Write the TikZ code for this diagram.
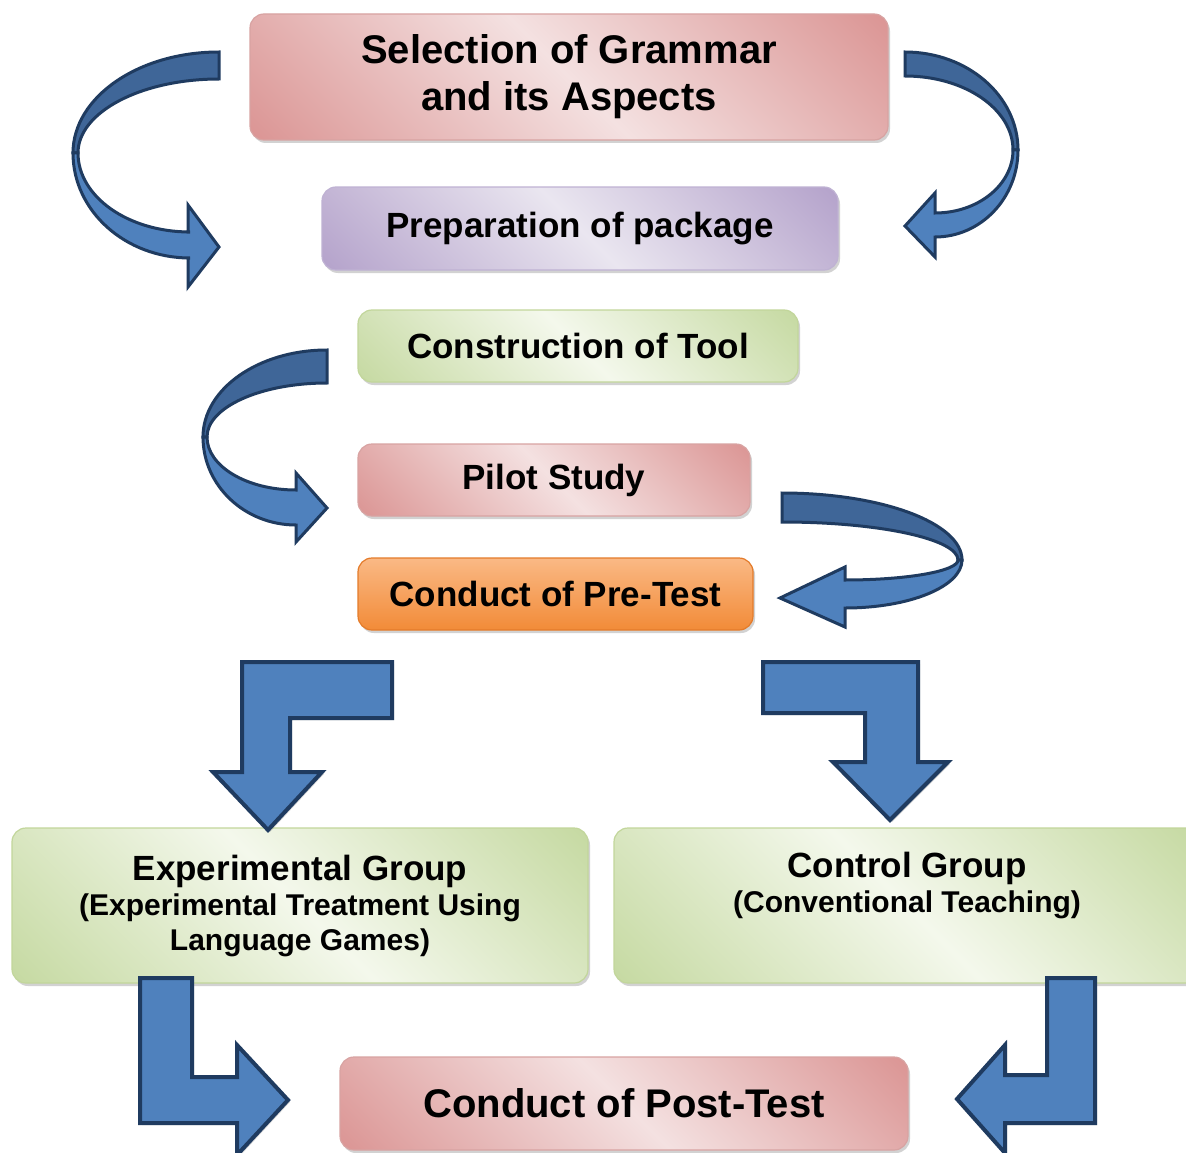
\documentclass[tikz,border=0pt]{standalone}
\usepackage{fontspec}
\setmainfont{Liberation Sans}
\usetikzlibrary{shadows}
\definecolor{pinkL}{HTML}{F4E1E1}
\definecolor{pinkD}{HTML}{D98F8E}
\definecolor{pinkB}{HTML}{D8A3A2}
\definecolor{lavL}{HTML}{EAE6F0}
\definecolor{lavD}{HTML}{B09DC8}
\definecolor{lavB}{HTML}{BFB2D3}
\definecolor{grnL}{HTML}{F4F8EC}
\definecolor{grnD}{HTML}{C2D79C}
\definecolor{grnB}{HTML}{C2D69B}
\definecolor{orL}{HTML}{FAB985}
\definecolor{orD}{HTML}{F28B38}
\definecolor{orB}{HTML}{E47B2A}
\definecolor{arrF}{HTML}{4F81BD}
\definecolor{arrB}{HTML}{3F6698}
\definecolor{arrO}{HTML}{1F3B60}
\pgfdeclareverticalshading{pinkdiag}{100bp}{color(0bp)=(pinkD); color(12bp)=(pinkD); color(50bp)=(pinkL); color(88bp)=(pinkD); color(100bp)=(pinkD)}
\pgfdeclareverticalshading{lavdiag}{100bp}{color(0bp)=(lavD); color(12bp)=(lavD); color(50bp)=(lavL); color(88bp)=(lavD); color(100bp)=(lavD)}
\pgfdeclareverticalshading{grndiag}{100bp}{color(0bp)=(grnD); color(12bp)=(grnD); color(50bp)=(grnL); color(88bp)=(grnD); color(100bp)=(grnD)}
\tikzset{
  boxbase/.style={rounded corners=14pt, line width=1.2pt, align=center, text=black,
    font=\bfseries\fontsize{35}{42}\selectfont, inner sep=0pt,
    drop shadow={opacity=0.35, shadow xshift=2pt, shadow yshift=-3pt}},
  pinkbox/.style={boxbase, draw=pinkB, shade, shading=pinkdiag, shading angle=-45},
  lavbox/.style={boxbase, draw=lavB, shade, shading=lavdiag, shading angle=-45},
  grnbox/.style={boxbase, draw=grnB, shade, shading=grndiag, shading angle=-45},
  orbox/.style={boxbase, draw=orB, top color=orL, bottom color=orD},
  arrfront/.style={fill=arrF, draw=arrO, line width=3pt, line join=miter},
  arrback/.style={fill=arrB, draw=arrO, line width=3pt, line join=miter},
  bentarr/.style={fill=arrF, draw=arrO, line width=4pt, line join=miter,
    drop shadow={opacity=0.3, shadow xshift=2pt, shadow yshift=-2pt, fill=gray, draw=none}},
}
\begin{document}
\begin{tikzpicture}[x=1pt,y=1pt]
\useasboundingbox (0,0) rectangle (1186,-1153);
\fill[white] (0,0) rectangle (1186,-1153);

% boxes
\node[pinkbox, minimum width=638pt, minimum height=126pt, font=\bfseries\fontsize{40}{47}\selectfont] (sel) at (569,-77) {Selection of Grammar\\and its Aspects};
\node[lavbox, minimum width=516pt, minimum height=83pt] (prep) at (580,-228.5) {Preparation of package};
\node[grnbox, minimum width=440pt, minimum height=72pt] (cons) at (578,-346) {Construction of Tool};
\node[pinkbox, minimum width=392pt, minimum height=72pt] (pilot) at (554,-480) {Pilot Study};
\node[orbox, minimum width=395pt, minimum height=72pt] (pre) at (555.5,-594) {Conduct of Pre-Test};
\node[grnbox, minimum width=576pt, minimum height=155pt, font=\bfseries\fontsize{35}{37}\selectfont] (exp) at (300,-905.5)
  {Experimental Group\\[-2pt]{\fontsize{30}{35}\selectfont (Experimental Treatment Using}\\[-2pt]{\fontsize{30}{35}\selectfont Language Games)}};
\node[grnbox, minimum width=586pt, minimum height=155pt, font=\bfseries\fontsize{35}{37}\selectfont] (ctrl) at (907,-905.5)
  {Control Group\\[-2pt]{\fontsize{30}{35}\selectfont (Conventional Teaching)}\\[-2pt]{\fontsize{30}{35}\selectfont\strut}};
\node[pinkbox, minimum width=568pt, minimum height=93pt, font=\bfseries\fontsize{40}{46}\selectfont] (post) at (624,-1103.5) {Conduct of Post-Test};

% curved arrow 1 (top left)
\draw[arrback] (219,-52) arc[start angle=90, end angle=180, x radius=146pt, y radius=101pt]
  -- (78,-153) arc[start angle=180, end angle=90, x radius=141pt, y radius=74pt] -- cycle;
\draw[arrfront] (73,-153) arc[start angle=180, end angle=270, x radius=117pt, y radius=105pt]
  -- (188,-258) -- (188,-287) -- (219,-247) -- (188,-205) -- (188,-232)
  -- (190,-232) arc[start angle=270, end angle=180, x radius=112pt, y radius=79pt] -- cycle;

% curved arrow 2 (top right)
\draw[arrback] (905,-52) arc[start angle=90, end angle=0, x radius=113pt, y radius=98pt]
  -- (1013,-150) arc[start angle=0, end angle=90, x radius=108pt, y radius=74pt] -- cycle;
\draw[arrfront] (1018,-150) arc[start angle=0, end angle=-90, x radius=83pt, y radius=87pt]
  -- (935,-257) -- (905,-226) -- (935,-193) -- (935,-213)
  arc[start angle=-90, end angle=0, x radius=78pt, y radius=63pt] -- cycle;

% curved arrow 3 (middle left)
\draw[arrback] (327,-350) arc[start angle=90, end angle=180, x radius=124pt, y radius=87pt]
  -- (207,-437) arc[start angle=180, end angle=90, x radius=120pt, y radius=54pt] -- cycle;
\draw[arrfront] (203,-437) arc[start angle=180, end angle=270, x radius=93pt, y radius=88pt]
  -- (296,-542) -- (327,-508) -- (296,-473) -- (296,-490)
  arc[start angle=270, end angle=180, x radius=89pt, y radius=53pt] -- cycle;

% curved arrow 4 (middle right)
\draw[arrback] (782,-493) arc[start angle=90, end angle=0, x radius=180pt, y radius=67pt]
  -- (958,-560) arc[start angle=0, end angle=90, x radius=176pt, y radius=38pt] -- cycle;
\draw[arrfront] (962,-560) arc[start angle=0, end angle=-90, x radius=117pt, y radius=48pt]
  -- (845,-627) -- (780,-598) -- (845,-567) -- (845,-580)
  arc[start angle=-90, end angle=0, x radius=113pt, y radius=20pt] -- cycle;

% bent arrows
\draw[bentarr] (392,-662) -- (242,-662) -- (242,-772) -- (213,-772) -- (268,-830)
  -- (322,-772) -- (290,-772) -- (290,-718) -- (392,-718) -- cycle;
\draw[bentarr] (763,-662) -- (918,-662) -- (918,-762) -- (948,-762) -- (890,-820)
  -- (833,-762) -- (865,-762) -- (865,-713) -- (763,-713) -- cycle;
\draw[bentarr] (140,-978) -- (192,-978) -- (192,-1077) -- (237,-1077) -- (237,-1045)
  -- (288,-1100) -- (237,-1155) -- (237,-1123) -- (140,-1123) -- cycle;
\draw[bentarr] (1095,-978) -- (1047,-978) -- (1047,-1075) -- (1005,-1075) -- (1005,-1045)
  -- (957,-1099) -- (1005,-1153) -- (1005,-1123) -- (1095,-1123) -- cycle;
\end{tikzpicture}
\end{document}
